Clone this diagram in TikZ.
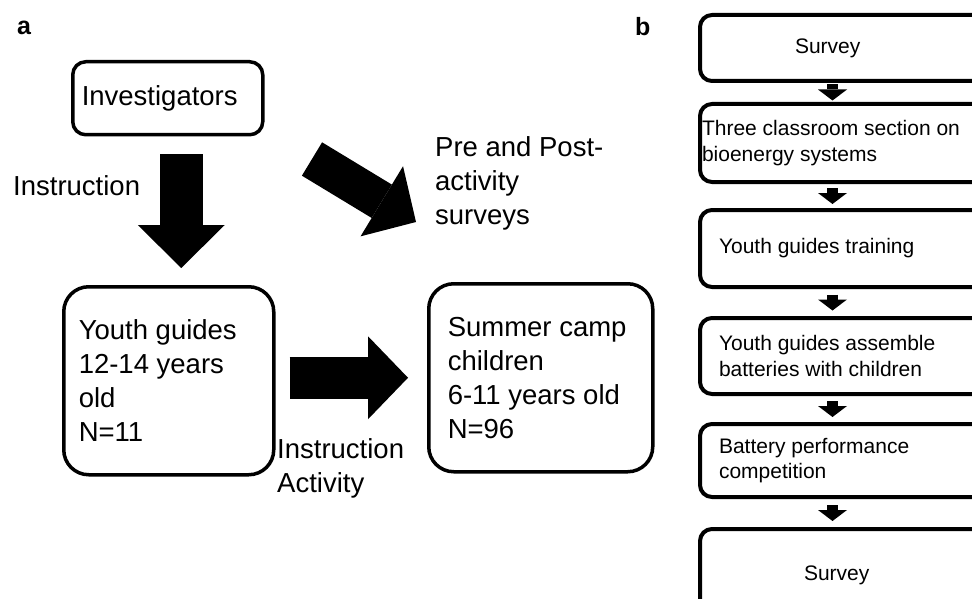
\documentclass[tikz,border=0pt]{standalone}
\usepackage{fontspec}
\setmainfont{Liberation Sans}
\usetikzlibrary{arrows.meta,calc}
\newcommand{\fonta}{\fontsize{27.5}{34}\selectfont}
\newcommand{\fontb}{\fontsize{21}{25.5}\selectfont}
\tikzset{
    common/.style={draw, anchor=north west, align=flush left, inner ysep=0pt},
    boxa/.style={common, line width=3.5pt, rounded corners=25pt, font=\fonta},
    boxb/.style={common, line width=4pt, rounded corners=12pt, font=\fontb, text width=252pt, inner xsep=19pt},
    note/.style={anchor=north west, align=left, inner sep=0pt, font=\fonta},
    panel/.style={anchor=base west, inner sep=0pt, font=\fontsize{25}{30}\selectfont\bfseries},
    bigarrow/.style={line width=42pt, -{Triangle[length=40pt, width=83pt, line width=0pt]}},
    smallarrow/.style={line width=11pt, -{Triangle[length=11pt, width=29pt, line width=0pt]}}
}

\begin{document}
\begin{tikzpicture}[x=1pt, y=-1pt]
    \useasboundingbox (0,0) rectangle (972,599);

    % panel a
    \node[panel] (pa) at (17,35) {a};
    \node[boxa, rounded corners=13pt, minimum height=73pt, text width=172pt, inner xsep=9pt] (inv) at (71,60) {Investigators};
    \node[boxa, minimum height=188pt, text width=180pt, inner xsep=15pt] (youth) at (62,285) {Youth guides\\12-14 years\\old\\N=11};
    \node[boxa, minimum height=188pt, text width=186pt, inner xsep=19pt] (camp) at (427,282) {Summer camp\\children\\6-11 years old\\N=96};

    \node[note, anchor=base west] (instr) at (13,195) {Instruction};
    \node[note] (survey) at (435,136) {Pre and Post-\\activity\\surveys};
    \node[note] (activity) at (277,438) {Instruction\\Activity};

    \draw[bigarrow, line width=43pt, -{Triangle[length=43pt, width=87pt, line width=0pt]}, shorten <=18pt, shorten >=17pt]
        ([xshift=13.5pt]inv.south) -- ([xshift=13.5pt]inv.south |- youth.north);
    \draw[bigarrow, shorten <=14pt, shorten >=19pt] (youth.east |- camp.west) -- (camp.west);

    \coordinate (dtail) at (312,159);
    \coordinate (dtip) at (416,222);
    \draw[bigarrow, line width=39pt, -{Triangle[length=40pt, width=82pt, line width=0pt]}] (dtail) -- (dtip);

    % panel b
    \node[panel] (pb) at (635,36) {b};
    \node[boxb, minimum height=66pt] (s1) at (698,13) {\hspace*{76pt}Survey};
    \node[boxb, minimum height=78pt, text width=286pt, inner xsep=2pt] (s2) at (698,102) {Three classroom section on\\bioenergy systems};
    \node[boxb, minimum height=77pt] (s3) at (698,208) {Youth guides training};
    \node[boxb, minimum height=76pt] (s4) at (698,316) {Youth guides assemble\\batteries with children};
    \node[boxb, minimum height=73pt] (s5) at (698,422) {Battery performance\\competition};
    \node[boxb, minimum height=92pt] (s6) at (698,527) {\hspace*{85pt}Survey};

    \coordinate (bx) at (832.5,0);
    \foreach \a/\b in {s1/s2, s2/s3, s3/s4, s4/s5, s5/s6}
        \draw[smallarrow] ($(\a.south -| bx)!.5!(\b.north -| bx)+(0,-8)$) -- ++(0,16);
\end{tikzpicture}
\end{document}
